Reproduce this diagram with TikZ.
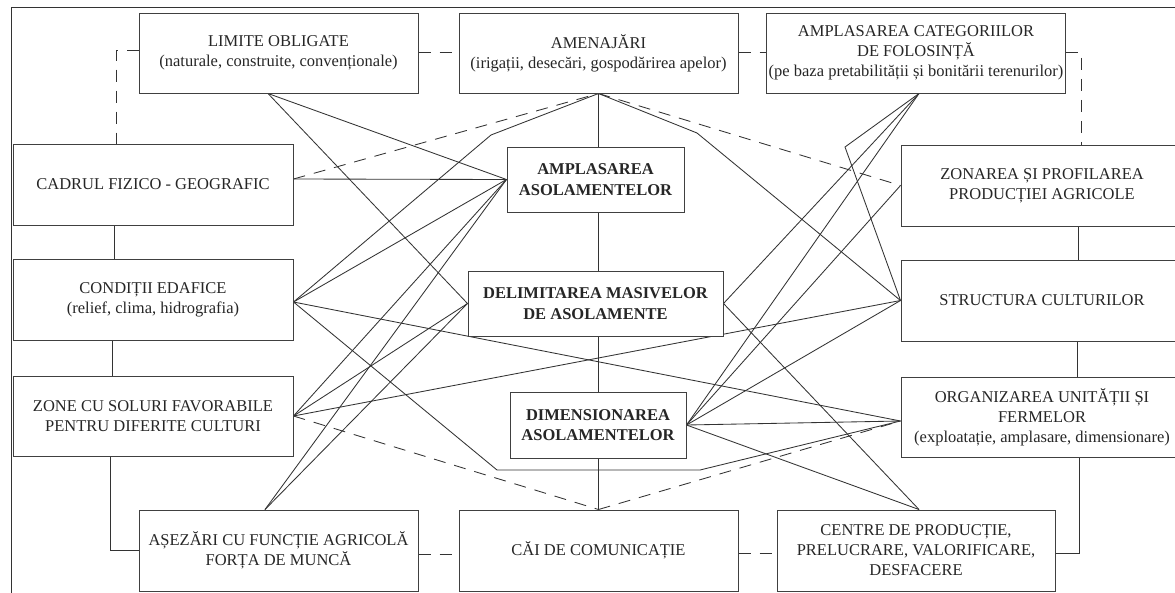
\documentclass[tikz,border=0pt]{standalone}
\usepackage{fontspec}
\setmainfont{Liberation Serif}
\pgfdeclarelayer{bg}
\pgfsetlayers{bg,main}
\tikzset{
  box/.style={draw=black!75, line width=1pt, fill=white, align=center, inner sep=2pt,
              text=black!85, font=\fontsize{16.5}{20}\selectfont},
  wide/.style={box, minimum width=279pt, minimum height=80pt},
  side/.style={box, minimum width=280pt, minimum height=81pt},
  keybox/.style={box, font=\fontsize{16.5}{20.5}\selectfont\bfseries, minimum height=65pt},
  link/.style={draw=black!80, line width=0.85pt},
  dlink/.style={link, dash pattern=on 12pt off 9pt},
}
\begin{document}
\begin{tikzpicture}[x=1pt,y=-1pt]
\useasboundingbox (0,0) rectangle (1175,592);
\clip (0,0) rectangle (1175,592);
% outer frame
\draw[black!80, line width=1pt] (11,600) -- (11,7) -- (1180,7);

% top row
\node[wide] (limite) at (278.5,53) {LIMITE OBLIGATE\\(naturale, construite, convenționale)};
\node[wide] (amenajari) at (598.5,53) {AMENAJĂRI\\(irigații, desecări, gospodărirea apelor)};
\node[wide, minimum width=278pt] (amplcat) at (916,53) {AMPLASAREA CATEGORIILOR\\DE FOLOSINȚĂ\\(pe baza pretabilității și bonitării terenurilor)};

% left column
\node[side] (cadrul) at (153,184.5) {CADRUL FIZICO - GEOGRAFIC};
\node[side] (conditii) at (153,299.5) {CONDIȚII EDAFICE\\(relief, clima, hidrografia)};
\node[side, minimum height=80pt] (zone) at (153,416) {ZONE CU SOLURI FAVORABILE\\PENTRU DIFERITE CULTURI};

% bottom row
\node[wide, minimum height=81pt] (asezari) at (278.5,550.5) {AȘEZĂRI CU FUNCȚIE AGRICOLĂ\\FORȚA DE MUNCĂ};
\node[wide, minimum height=81pt] (cai) at (598.5,550.5) {CĂI DE COMUNICAȚIE};
\node[wide, minimum width=278pt, minimum height=81pt] (centre) at (916,550.5) {CENTRE DE PRODUCȚIE,\\PRELUCRARE, VALORIFICARE,\\DESFACERE};

% right column
\node[side, minimum width=282pt] (zonarea) at (1042,185.5) {ZONAREA ȘI PROFILAREA\\PRODUCȚIEI AGRICOLE};
\node[side, minimum width=282pt] (structura) at (1042,300.5) {STRUCTURA CULTURILOR};
\node[side, minimum width=282pt, minimum height=80pt] (organizarea) at (1042,417) {ORGANIZAREA UNITĂȚII ȘI\\FERMELOR\\(exploatație, amplasare, dimensionare)};

% central chain
\node[keybox, minimum width=177pt] (ampl) at (595.5,179.5) {AMPLASAREA\\ASOLAMENTELOR};
\node[keybox, minimum width=255pt] (delim) at (595.5,303.5) {DELIMITAREA MASIVELOR\\DE ASOLAMENTE};
\node[keybox, minimum width=176pt, minimum height=66pt] (dimens) at (598,425) {DIMENSIONAREA\\ASOLAMENTELOR};

% attachment points
\coordinate (limS) at ([xshift=-10.5pt]limite.south);
\coordinate (amenS) at (amenajari.south);
\coordinate (catS) at ([xshift=3pt]amplcat.south);
\coordinate (cadE) at ([yshift=5.5pt]cadrul.east);
\coordinate (condE) at ([yshift=-2.5pt]conditii.east);
\coordinate (zoneE) at (zone.east);
\coordinate (asezN) at ([xshift=-13.5pt]asezari.north);
\coordinate (caiN) at (cai.north);
\coordinate (centN) at ([xshift=3pt]centre.north);
\coordinate (zonW) at (zonarea.west);
\coordinate (strW) at (structura.west);
\coordinate (orgW) at ([yshift=-4pt]organizarea.west);
\coordinate (amplW) at (ampl.west);
\coordinate (delW) at (delim.west);
\coordinate (delE) at (delim.east);
\coordinate (dimE) at (dimens.east);
% bends of the broken connectors
\coordinate (kA) at (491,135);
\coordinate (kB) at (697,133);
\coordinate (kC) at (845,147);
\coordinate (kD) at (497,470);
\coordinate (kE) at (700,470);

\begin{pgfonlayer}{bg}
\fill[white] (0,0) rectangle (1175,592);
% vertical chain through the centre
\draw[link] (amenajari.south) -- (cai.north);
% side columns
\draw[link] ([xshift=-39pt]cadrul.south) -- ([xshift=-39pt]cadrul.south |- conditii.north);
\draw[link] ([xshift=-41pt]conditii.south) -- ([xshift=-41pt]conditii.south |- zone.north);
\draw[link] ([xshift=-43pt]zone.south) |- (asezari.west);
\draw[link] ([xshift=36pt]zonarea.south) -- ([xshift=36pt]zonarea.south |- structura.north);
\draw[link] ([xshift=35pt]structura.south) -- ([xshift=35pt]structura.south |- organizarea.north);
\draw[link] ([xshift=37pt]organizarea.south) |- ([yshift=-2.5pt]centre.east);
% dashed frame links
\draw[dlink] ([yshift=3pt]limite.west) -| ([xshift=-37pt]cadrul.north);
\draw[dlink] ([yshift=1pt]limite.east) -- ([yshift=1pt]amenajari.west);
\draw[dlink] ([yshift=1pt]amenajari.east) -- ([yshift=1pt]amplcat.west);
\draw[dlink] ([yshift=1pt]amplcat.east) -| ([xshift=39pt]zonarea.north);
\draw[dlink] ([yshift=-3.5pt]asezari.east) -- ([yshift=-3.5pt]cai.west);
\draw[dlink] ([yshift=-2.5pt]cai.east) -- ([yshift=-2.5pt]centre.west);
% dashed diagonals
\draw[dlink] (cadE) -- (amenS);
\draw[dlink] (amenS) -- (zonW);
\draw[dlink] (zoneE) -- (caiN);
\draw[dlink] (caiN) -- (orgW);
% solid diagonals, left side
\draw[link] (limS) -- (amplW);
\draw[link] (limS) -- (delW);
\draw[link] (cadE) -- (amplW);
\draw[link] (condE) -- (amplW);
\draw[link] (condE) -- (kA) -- (amenS);
\draw[link] (condE) -- (orgW);
\draw[link] (condE) -- (kD) -- (kE) -- (orgW);
\draw[link] (zoneE) -- (amplW);
\draw[link] (zoneE) -- (delW);
\draw[link] (zoneE) -- (strW);
\draw[link] (asezN) -- (amplW);
\draw[link] (asezN) -- (delW);
% solid diagonals, right side
\draw[link] (amenS) -- (kB) -- (strW);
\draw[link] (catS) -- (kC) -- (strW);
\draw[link] (catS) -- (delE);
\draw[link] (catS) -- (dimE);
\draw[link] (delE) -- (centN);
\draw[link] (dimE) -- (zonW);
\draw[link] (dimE) -- (strW);
\draw[link] (dimE) -- (orgW);
\draw[link] (dimE) -- (centN);
\end{pgfonlayer}
\end{tikzpicture}
\end{document}
